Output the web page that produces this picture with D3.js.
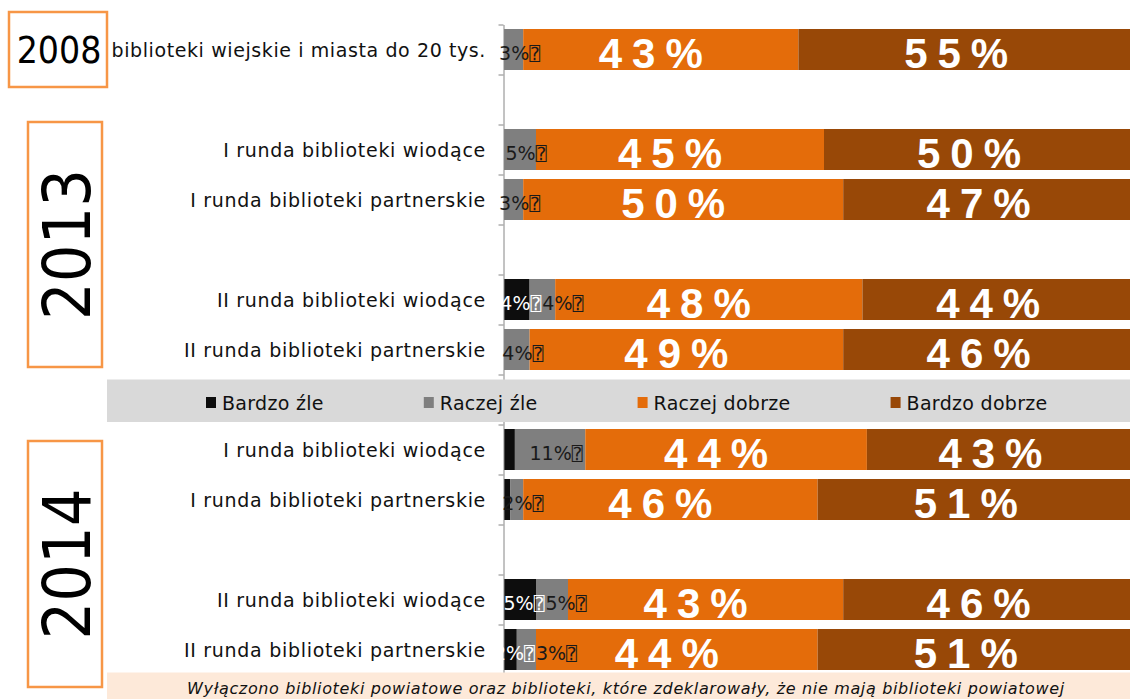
<!DOCTYPE html>
<html lang="pl">
<head>
<meta charset="utf-8">
<script src="https://cdn.jsdelivr.net/npm/d3@7"></script>
<style>
  html, body { margin: 0; padding: 0; background: #ffffff; }
  svg { display: block; }
</style>
</head>
<body>
<svg id="chart" width="1130" height="699"></svg>
<script>
// Row labels, top to bottom
const categories = [
  "biblioteki wiejskie i miasta do 20 tys.",
  "I runda biblioteki wiodące",
  "I runda biblioteki partnerskie",
  "II runda biblioteki wiodące",
  "II runda biblioteki partnerskie",
  "I runda biblioteki wiodące",
  "I runda biblioteki partnerskie",
  "II runda biblioteki wiodące",
  "II runda biblioteki partnerskie"
];
// Rows per block; blocks are separated by one empty slot
const blockSizes = [1, 2, 2, 2, 2];

// Survey years and the rows (first, last) they cover
const years = ["2008", "2013", "2014"];
const yearRows = [[0, 0], [1, 4], [5, 8]];

// Answer shares in percent
const seriesNames = ["Bardzo źle", "Raczej źle", "Raczej dobrze", "Bardzo dobrze"];
const bardzoZle    = [0, 0, 0, 4, 0, 1.7, 1, 5, 2];
const raczejZle    = [3, 5, 3, 4, 4, 11, 2, 5, 3];
const raczejDobrze = [43, 45, 50, 48, 49, 44, 46, 43, 44];
const bardzoDobrze = [55, 50, 47, 44, 46, 43, 51, 46, 51];

const footnote = "Wyłączono biblioteki powiatowe oraz biblioteki, które zdeklarowały, że nie mają biblioteki powiatowej";

const colors = ["#0d0d0d", "#7f7f7f", "#e46c0a", "#984807"];

const svg = d3.select("#chart");
const W = 1130, H = 699;
svg.append("rect").attr("width", W).attr("height", H).attr("fill", "#ffffff");

// Build slot domain: row keys with gap keys between blocks
const slots = [];
let r = 0;
blockSizes.forEach((n, b) => {
  for (let i = 0; i < n; i++) slots.push("r" + (r++));
  if (b < blockSizes.length - 1) slots.push("gap" + b);
});

const y = d3.scaleBand().domain(slots).range([24.5, 674.5]).paddingInner(0.18).paddingOuter(0.09);
const x = d3.scaleLinear().domain([0, 100]).range([504, 1144]);

const table = categories.map((c, i) => ({
  key: "r" + i, label: c,
  [seriesNames[0]]: bardzoZle[i],
  [seriesNames[1]]: raczejZle[i],
  [seriesNames[2]]: raczejDobrze[i],
  [seriesNames[3]]: bardzoDobrze[i]
}));
const stacked = d3.stack().keys(seriesNames)(table);

const plot = svg.append("g");

// Bars
stacked.forEach((layer, li) => {
  plot.append("g").selectAll("rect").data(layer).join("rect")
    .attr("x", d => x(d[0]))
    .attr("y", d => y(d.data.key))
    .attr("width", d => Math.max(0, x(d[1]) - x(d[0])))
    .attr("height", y.bandwidth())
    .attr("fill", colors[li]);
});

// Category axis (ticks at slot boundaries)
const edge = d3.scaleLinear().domain([0, slots.length]).range([24.5, 674.5]);
const axis = svg.append("g").attr("transform", "translate(503.5,0)")
  .call(d3.axisLeft(edge).tickValues(d3.range(slots.length + 1)).tickFormat("").tickSize(5).tickSizeOuter(0));
axis.selectAll("path, line").attr("stroke", "#868686").attr("stroke-width", 1);

// Row labels
svg.append("g").selectAll("text").data(table).join("text")
  .attr("x", 486)
  .attr("y", d => y(d.key) + y.bandwidth() / 2 + 7)
  .attr("text-anchor", "end")
  .attr("font-family", "'DejaVu Sans', Verdana, sans-serif")
  .attr("font-size", 19)
  .attr("letter-spacing", d => d.label.length > 32 ? 0.6 : 0.7)
  .attr("fill", "#111")
  .text(d => d.label);

// Value labels on the two negative answers (small); the grey label
// is pushed right when it would run into the black one
function smallLabel(g, cy, v, fill) {
  const t = g.append("text")
    .attr("y", cy)
    .attr("font-family", "'DejaVu Sans', Verdana, sans-serif")
    .attr("font-size", 19)
    .attr("fill", fill);
  t.append("tspan").text(Math.round(v) + "%");
  t.append("tspan").attr("font-size", 18).attr("font-family", "'DejaVu Sans Mono', monospace").text("\u2370");
  return { t, w: t.node().getComputedTextLength() };
}
const smallG = svg.append("g");
table.forEach((row, i) => {
  const cy = y(row.key) + y.bandwidth() / 2 + 10;
  let prevEnd = -Infinity;
  const b = stacked[0][i];
  const vb = b[1] - b[0];
  if (vb >= 2) {
    const { t, w } = smallLabel(smallG, cy, vb, "#ffffff");
    const sx = (x(b[0]) + x(b[1])) / 2 + 4 - w / 2;
    t.attr("x", sx);
    prevEnd = sx + w;
  }
  const g = stacked[1][i];
  const vg = g[1] - g[0];
  if (vg >= 2) {
    const { t, w } = smallLabel(smallG, cy, vg, "#1a1a1a");
    const sx = Math.max((x(g[0]) + x(g[1])) / 2 + 6 - w / 2, prevEnd + 1);
    t.attr("x", sx);
  }
});

// Value labels on the two positive answers (large)
stacked.slice(2).forEach(layer => {
  svg.append("g").selectAll("text").data(layer).join("text")
    .attr("x", d => (x(d[0]) + Math.min(x(d[1]), 1134)) / 2 - 5)
    .attr("y", d => y(d.data.key) + y.bandwidth() / 2 + 18)
    .attr("text-anchor", "middle")
    .attr("font-family", "'Liberation Sans', Arial, sans-serif")
    .attr("font-weight", "bold")
    .attr("font-size", 42)
    .attr("letter-spacing", 10)
    .attr("fill", "#ffffff")
    .text(d => Math.round(d[1] - d[0]) + "%");
});

// Legend band
const legend = svg.append("g");
legend.append("rect").attr("x", 107).attr("y", 379.5).attr("width", W - 107).attr("height", 42.5).attr("fill", "#d9d9d9");
let lx = 206;
seriesNames.forEach((name, i) => {
  legend.append("rect").attr("x", lx).attr("y", 397).attr("width", 10).attr("height", 11).attr("fill", colors[i]);
  const t = legend.append("text")
    .attr("x", lx + 16).attr("y", 410)
    .attr("font-family", "'DejaVu Sans', Verdana, sans-serif")
    .attr("font-size", 19)
    .attr("letter-spacing", 0.3)
    .attr("fill", "#111")
    .text(name);
  lx += 16 + t.node().getComputedTextLength() + 100;
});

// Footnote band
svg.append("rect").attr("x", 107).attr("y", 672.5).attr("width", W - 107).attr("height", H - 672.5).attr("fill", "#fde9d9");
svg.append("text")
  .attr("x", 626).attr("y", 694)
  .attr("text-anchor", "middle")
  .attr("font-family", "'DejaVu Sans', Verdana, sans-serif")
  .attr("font-style", "italic")
  .attr("font-size", 16)
  .attr("letter-spacing", 0.65)
  .attr("fill", "#111")
  .text(footnote);

// Year boxes
const yearG = svg.append("g");
const bw = y.bandwidth();
// 2008: horizontal
{
  const y0 = y("r0") - 17, y1 = y("r0") + bw + 17;
  yearG.append("rect").attr("x", 9).attr("y", y0).attr("width", 98).attr("height", y1 - y0)
    .attr("fill", "#ffffff").attr("stroke", "#f79646").attr("stroke-width", 2.5);
  yearG.append("text").attr("x", 59).attr("y", (y0 + y1) / 2 + 13)
    .attr("text-anchor", "middle")
    .attr("font-family", "'DejaVu Sans Condensed', 'DejaVu Sans', sans-serif")
    .attr("font-stretch", "condensed")
    .attr("font-size", 37).attr("fill", "#000")
    .text(years[0]);
}
// 2013 and 2014: vertical
[[1, -7, -3], [2, 12, 17]].forEach(([yi, top, bottom]) => {
  const [a, b] = yearRows[yi];
  const y0 = y("r" + a) + top, y1 = y("r" + b) + bw + bottom;
  yearG.append("rect").attr("x", 28).attr("y", y0).attr("width", 74).attr("height", y1 - y0)
    .attr("fill", "#ffffff").attr("stroke", "#f79646").attr("stroke-width", 2.5);
  const cx = 65, cy = (y0 + y1) / 2;
  yearG.append("text")
    .attr("transform", `translate(${cx + 25},${cy}) rotate(-90)`)
    .attr("text-anchor", "middle")
    .attr("font-family", "'DejaVu Sans Condensed', 'DejaVu Sans', sans-serif")
    .attr("font-stretch", "condensed")
    .attr("font-size", 66).attr("fill", "#000")
    .text(years[yi]);
});
</script>
</body>
</html>
